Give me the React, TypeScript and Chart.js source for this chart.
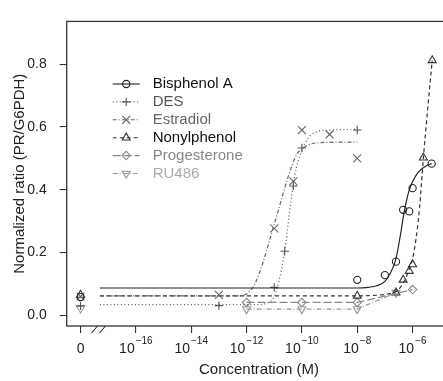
import React, { useEffect, useRef } from 'react';
import { Chart, registerables } from 'chart.js';
import { drawPoint } from 'chart.js/helpers';

Chart.register(...registerables);

// ---------- data (x = log10 concentration in M; -18 stands for zero concentration) ----------
const xTickValues = [-18, -16, -14, -12, -10, -8, -6];
const xTickLabels = ['0', '10^-16', '10^-14', '10^-12', '10^-10', '10^-8', '10^-6'];
const yTickValues = [0, 0.2, 0.4, 0.6, 0.8];
const yTickLabels = ['0.0', '0.2', '0.4', '0.6', '0.8'];

const seriesNames = ['Bisphenol A', 'DES', 'Estradiol', 'Nonylphenol', 'Progesterone', 'RU486'];

// observed points
const bpaX = [-18, -8, -7, -6.6, -6.34, -6.12, -6, -5.31];
const bpaY = [0.058, 0.113, 0.128, 0.171, 0.336, 0.331, 0.405, 0.483];
const desX = [-18, -13, -11, -10.62, -10.31, -10, -8];
const desY = [0.03, 0.031, 0.089, 0.204, 0.412, 0.533, 0.59];
const estX = [-18, -13, -11, -10.31, -10, -9, -8];
const estY = [0.06, 0.065, 0.277, 0.427, 0.59, 0.576, 0.5];
const nonX = [-18, -8, -6.6, -6.34, -6.12, -6, -5.61, -5.29];
const nonY = [0.065, 0.062, 0.072, 0.113, 0.141, 0.162, 0.502, 0.812];
const progX = [-12, -10, -8, -6];
const progY = [0.041, 0.041, 0.041, 0.082];
const ruX = [-18, -12, -10, -8, -6.6];
const ruY = [0.022, 0.02, 0.02, 0.02, 0.072];

// fitted curves
const bpaFitX = [-17.3, -8, -7.6, -7.3, -7.0, -6.8, -6.6, -6.45, -6.3, -6.15, -6.0, -5.8, -5.55, -5.31];
const bpaFitY = [0.087, 0.087, 0.089, 0.094, 0.108, 0.135, 0.18, 0.25, 0.33, 0.39, 0.425, 0.455, 0.474, 0.483];
const desFitX = [-17.3, -11.6, -11.3, -11.0, -10.8, -10.6, -10.4, -10.2, -10.0, -9.8, -9.5, -9.0, -8];
const desFitY = [0.034, 0.034, 0.038, 0.06, 0.12, 0.22, 0.36, 0.47, 0.525, 0.562, 0.583, 0.59, 0.592];
const estFitX = [-17.3, -12.3, -12.0, -11.7, -11.4, -11.1, -10.8, -10.5, -10.2, -10.0, -9.7, -9.3, -8];
const estFitY = [0.062, 0.062, 0.068, 0.1, 0.17, 0.26, 0.35, 0.44, 0.51, 0.53, 0.545, 0.55, 0.552];
const nonFitX = [-17.3, -8, -7.3, -6.9, -6.6, -6.35, -6.15, -6.0, -5.88, -5.75, -5.61, -5.45, -5.29];
const nonFitY = [0.062, 0.062, 0.064, 0.068, 0.076, 0.1, 0.14, 0.18, 0.24, 0.34, 0.5, 0.66, 0.812];

// where the axis break is drawn (x value)
const axisBreakAt = -17.35;

// ---------- styles ----------
const FONT = '"Liberation Sans", Arial, Helvetica, sans-serif';
const styles = [
  { color: '#222', text: '#111', dash: [] as number[], point: 'circle', rot: 0, r: 3.6 },
  { color: '#555', text: '#555', dash: [1, 2.5], point: 'cross', rot: 0, r: 4.2 },
  { color: '#666', text: '#666', dash: [4, 2, 1, 2], point: 'crossRot', rot: 0, r: 5.6 },
  { color: '#333', text: '#111', dash: [4, 3], point: 'triangle', rot: 0, r: 4.6 },
  { color: '#888', text: '#888', dash: [8, 3], point: 'rectRot', rot: 0, r: 4.2 },
  { color: '#999', text: '#aaa', dash: [5, 2, 1, 2], point: 'triangle', rot: 180, r: 4.6 },
];

const zip = (xs: number[], ys: number[]) => xs.map((x, i) => ({ x, y: ys[i] }));

const pointSets = [zip(bpaX, bpaY), zip(desX, desY), zip(estX, estY), zip(nonX, nonY), zip(progX, progY), zip(ruX, ruY)];
const lineSets = [
  zip(bpaFitX, bpaFitY),
  zip(desFitX, desFitY),
  zip(estFitX, estFitY),
  zip(nonFitX, nonFitY),
  zip(progX, progY),
  zip(ruX.slice(1), ruY.slice(1)),
];
const lineSmooth = [true, true, true, true, false, false];

const boxPlugin = {
  id: 'boxAndExtras',
  afterDraw(chart: any) {
    const { ctx, chartArea } = chart;
    const xs = chart.scales.x;
    ctx.save();
    // box
    ctx.strokeStyle = '#333';
    ctx.lineWidth = 1.3;
    ctx.setLineDash([]);
    ctx.strokeRect(chartArea.left, chartArea.top, chartArea.right - chartArea.left, chartArea.bottom - chartArea.top);
    // axis break marks
    const bx = xs.getPixelForValue(axisBreakAt);
    const by = chartArea.bottom;
    ctx.lineWidth = 1.1;
    ctx.strokeStyle = '#333';
    ctx.beginPath();
    ctx.moveTo(bx - 7, by + 7);
    ctx.lineTo(bx - 1, by);
    ctx.moveTo(bx + 1, by + 7);
    ctx.lineTo(bx + 7, by);
    ctx.stroke();
    // x tick labels with superscripts
    ctx.fillStyle = '#222';
    ctx.textBaseline = 'middle';
    ctx.textAlign = 'left';
    xTickValues.forEach((v, i) => {
      const px = xs.getPixelForValue(v);
      const [base, exp] = xTickLabels[i].split('^');
      ctx.font = `14px ${FONT}`;
      const w1 = ctx.measureText(base).width;
      let w2 = 0;
      const expText = exp ? exp.replace('-', '\u2212') : '';
      if (exp) {
        ctx.font = `10px ${FONT}`;
        w2 = ctx.measureText(expText).width + 1;
      }
      const start = px - (w1 + w2) / 2;
      ctx.font = `14px ${FONT}`;
      ctx.fillText(base, start, by + 23);
      if (exp) {
        ctx.font = `10px ${FONT}`;
        ctx.fillText(expText, start + w1 + 1, by + 15);
      }
    });
    // legend
    const lx0 = chartArea.left + 46;
    const lx1 = chartArea.left + 73;
    const tx = chartArea.left + 86;
    const ly0 = chartArea.top + 62.6;
    const dy = 17.9;
    seriesNames.forEach((name, i) => {
      const s = styles[i];
      const y = ly0 + i * dy;
      ctx.strokeStyle = s.color;
      ctx.lineWidth = 1.1;
      ctx.setLineDash(s.dash);
      ctx.beginPath();
      ctx.moveTo(lx0, y);
      ctx.lineTo(lx1, y);
      ctx.stroke();
      ctx.setLineDash([]);
      ctx.fillStyle = 'rgba(0,0,0,0)';
      drawPoint(ctx, { pointStyle: s.point, radius: s.r, rotation: s.rot, borderWidth: 1 } as any, (lx0 + lx1) / 2, y);
      ctx.fillStyle = s.text;
      ctx.font = `15px ${FONT}`;
      ctx.textAlign = 'left';
      ctx.textBaseline = 'middle';
      ctx.fillText(name, tx, y);
    });
    ctx.restore();
  },
};

export default function App() {
  const ref = useRef<HTMLCanvasElement>(null);
  useEffect(() => {
    const canvas = ref.current;
    if (!canvas) return;
    const datasets: any[] = [];
    lineSets.forEach((data, i) => {
      const s = styles[i];
      datasets.push({
        label: seriesNames[i] + ' fit',
        data,
        showLine: true,
        borderColor: s.color,
        borderWidth: 1.2,
        borderDash: s.dash,
        pointRadius: 0,
        fill: false,
        cubicInterpolationMode: lineSmooth[i] ? 'monotone' : 'default',
        tension: 0,
      });
    });
    pointSets.forEach((data, i) => {
      const s = styles[i];
      datasets.push({
        label: seriesNames[i],
        data,
        showLine: false,
        pointStyle: s.point,
        pointRotation: s.rot,
        pointRadius: s.r,
        pointBorderWidth: 1.1,
        pointBorderColor: s.color,
        pointBackgroundColor: 'rgba(0,0,0,0)',
      });
    });

    const chart = new Chart(canvas, {
      type: 'scatter',
      data: { datasets },
      options: {
        animation: false,
        responsive: false,
        maintainAspectRatio: false,
        layout: { padding: { left: 0, top: 10.7, right: 2, bottom: 0 } },
        plugins: { legend: { display: false }, tooltip: { enabled: false } },
        scales: {
          x: {
            type: 'linear',
            min: -18.5,
            max: -4.6,
            afterBuildTicks: (s: any) => {
              s.ticks = xTickValues.map((v) => ({ value: v }));
            },
            afterFit: (s: any) => {
              s.height = 55;
            },
            grid: { drawOnChartArea: false, drawTicks: true, tickLength: 7, color: '#333', lineWidth: 1.1 },
            border: { display: false },
            ticks: { display: false },
            title: {
              display: true,
              text: 'Concentration (M)',
              color: '#222',
              font: { family: FONT, size: 15 },
              padding: { top: 0, bottom: 2 },
            },
          },
          y: {
            type: 'linear',
            min: -0.034,
            max: 0.936,
            afterBuildTicks: (s: any) => {
              s.ticks = yTickValues.map((v) => ({ value: v }));
            },
            afterFit: (s: any) => {
              s.width = 66.7;
            },
            grid: { drawOnChartArea: false, drawTicks: true, tickLength: 7, color: '#333', lineWidth: 1.1 },
            border: { display: false },
            ticks: {
              padding: 13,
              color: '#222',
              font: { family: FONT, size: 14 },
              callback: (_v: any, i: number) => yTickLabels[i],
            },
            title: {
              display: true,
              text: 'Normalized ratio (PR/G6PDH)',
              color: '#222',
              font: { family: FONT, size: 15 },
              padding: { top: 11, bottom: 0 },
            },
          },
        },
      },
      plugins: [boxPlugin],
    } as any);
    return () => chart.destroy();
  }, []);

  return (
    <div
      style={{
        position: 'fixed',
        left: 0,
        top: 0,
        width: 443,
        height: 381,
        overflow: 'hidden',
        background: '#fff',
      }}
    >
      <canvas ref={ref} width={458} height={381} style={{ display: 'block', width: 458, height: 381 }} />
    </div>
  );
}
